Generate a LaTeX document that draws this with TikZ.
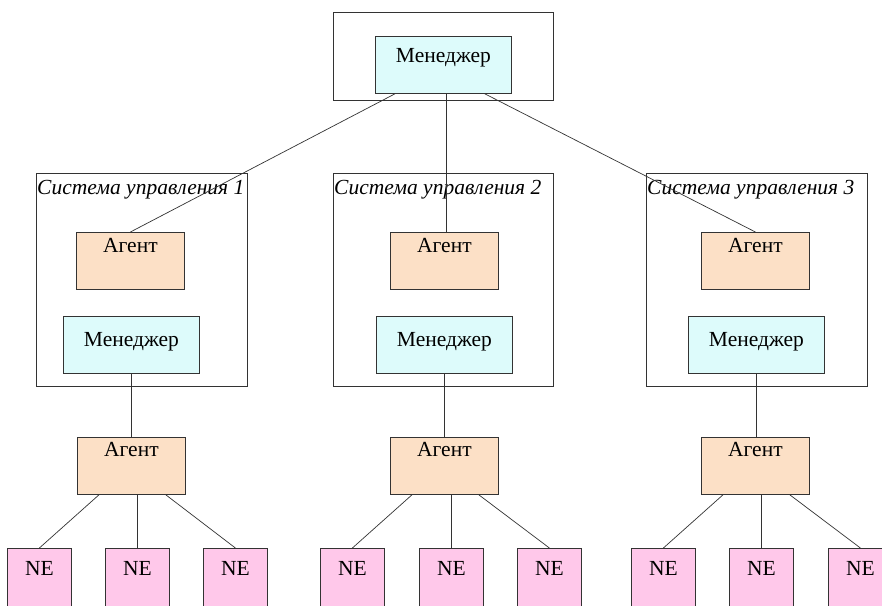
\documentclass[tikz,border=0pt]{standalone}
\usepackage{fontspec}
\setmainfont{Liberation Serif}
\usetikzlibrary{calc}
\definecolor{mgrfill}{HTML}{DDFBFB}
\definecolor{agtfill}{HTML}{FCE0C6}
\definecolor{nefill}{HTML}{FFC8EA}
\definecolor{edge}{HTML}{333333}
\begin{document}
\begin{tikzpicture}[x=1pt,y=-1pt,
  frame/.style={draw=edge, line width=0.8pt, inner sep=0pt, anchor=north west},
  mgr/.style={frame, fill=mgrfill, minimum width=136pt, minimum height=57pt},
  agt/.style={frame, fill=agtfill, minimum width=108pt, minimum height=57pt},
  nebox/.style={frame, fill=nefill, minimum width=64pt, minimum height=70pt},
  sys/.style={frame, minimum width=#1pt, minimum height=213pt},
  lbl/.style={anchor=base, inner sep=0pt, font=\fontsize{21.5}{24}\selectfont},
  ttl/.style={anchor=base west, inner sep=0pt, font=\fontsize{21.5}{24}\selectfont\itshape},
  link/.style={draw=edge, line width=0.7pt}]
\useasboundingbox (0,0) rectangle (882,605);
\clip (0,0) rectangle (882,605);
\fill[white] (0,0) rectangle (882,605);

% top
\node[frame, minimum width=220pt, minimum height=88pt] (top) at (333,12) {};
\node[mgr] (M) at (375,36) {};
\node[lbl] (Mt) at ($(M.north)+(0,26)$) {Менеджер};

% systems
\node[sys=211] (S1) at (36,173) {};
\node[sys=220] (S2) at (333,173) {};
\node[sys=221] (S3) at (646,173) {};
\node[ttl] (S1t) at (37,194) {Система управления 1};
\node[ttl] (S2t) at (334,194) {Система управления 2};
\node[ttl] (S3t) at (647,194) {Система управления 3};

\node[agt] (A1) at (76,232) {};
\node[agt] (A2) at (390,232) {};
\node[agt] (A3) at (701,232) {};
\node[mgr] (M1) at (63,316) {};
\node[mgr] (M2) at (376,316) {};
\node[mgr] (M3) at (688,316) {};
\foreach \i in {1,2,3}{
  \node[lbl] (A\i t) at ($(A\i.north)+(0,20)$) {Агент};
  \node[lbl] (M\i t) at ($(M\i.north)+(0,30)$) {Менеджер};
}

% bottom agents
\node[agt] (B1) at (77,437) {};
\node[agt] (B2) at (390,437) {};
\node[agt] (B3) at (701,437) {};
\foreach \i in {1,2,3}{
  \node[lbl] (B\i t) at ($(B\i.north)+(0,19)$) {Агент};
}

% NE boxes
\node[nebox] (N11) at (7,548) {};
\node[nebox] (N12) at (105,548) {};
\node[nebox] (N13) at (203,548) {};
\node[nebox] (N21) at (320,548) {};
\node[nebox] (N22) at (419,548) {};
\node[nebox] (N23) at (517,548) {};
\node[nebox] (N31) at (631,548) {};
\node[nebox] (N32) at (729,548) {};
\node[nebox] (N33) at (828,548) {};
\foreach \i in {1,2,3}{
  \foreach \j in {1,2,3}{
    \node[lbl] (N\i\j t) at ($(N\i\j.north)+(0,27)$) {NE};
  }
}

% connectors from top manager
\coordinate (Mmid) at ($(M.south)+(3,0)$);
\draw[link] ($(M.south west)+(20,0)$) -- (A1.north);
\draw[link] (Mmid) -- (Mmid |- A2.north);
\draw[link] ($(M.south east)+(-27,0)$) -- (A3.north);

% managers to bottom agents
\foreach \i in {1,2,3}{
  \draw[link] (M\i.south) -- (M\i.south |- B\i.north);
  \draw[link] ($(B\i.south west)+(22,0)$) -- (N\i1.north);
  \draw[link] (N\i2.north |- B\i.south) -- (N\i2.north);
  \draw[link] ($(B\i.south east)+(-20,0)$) -- (N\i3.north);
}
\end{tikzpicture}
\end{document}
